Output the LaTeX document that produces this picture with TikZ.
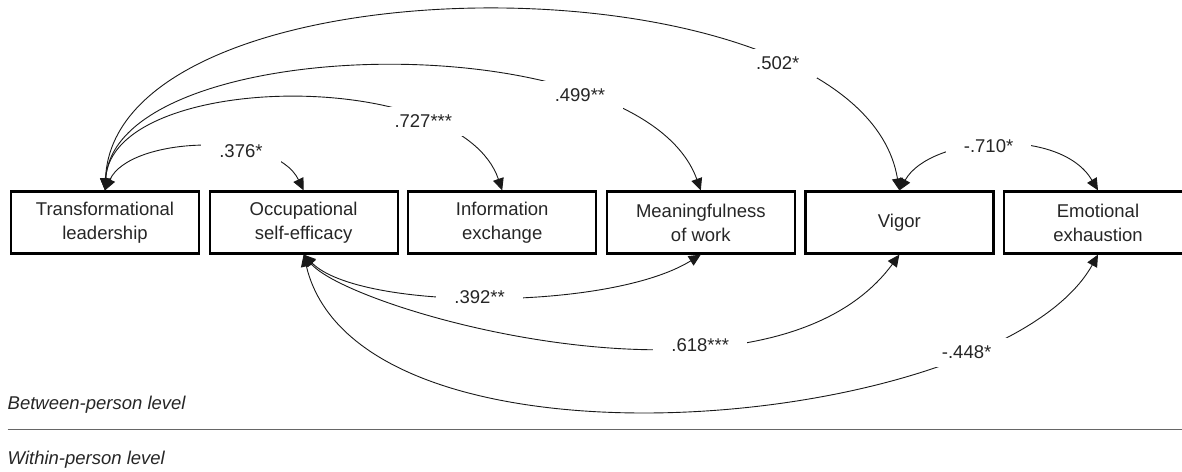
\documentclass[tikz,border=0pt]{standalone}
\usepackage{fontspec}
\setmainfont{Liberation Sans}
\usetikzlibrary{positioning,arrows.meta}
\tikzset{
    varbox/.style={draw, line width=2.2pt, minimum width=188pt, minimum height=62pt, inner sep=2pt,
        align=center, text=black!85, font=\fontsize{18.5}{24}\selectfont},
    coef/.style={fill=white, inner xsep=18pt, inner ysep=8pt, text=black!85,
        font=\fontsize{18.5}{22}\selectfont},
    corr/.style={{Triangle[length=12pt,width=11pt]}-{Triangle[length=12pt,width=11pt]},
        line width=0.9pt, black!90},
    level/.style={anchor=west, inner sep=0pt, text=black!85, font=\itshape\fontsize{18.5}{22}\selectfont}
}
\begin{document}
\begin{tikzpicture}[x=1pt,y=1pt]
            \useasboundingbox (0,0) rectangle (1182,471);
            \node[varbox] (tl) at (105,248.5) {Transformational\\leadership};
            \node[varbox, right=8.4pt of tl] (ose) {Occupational\\self-efficacy};
            \node[varbox, right=8.4pt of ose] (ie) {Information\\exchange};
            \node[varbox, right=8.4pt of ie] (mw) {Meaningfulness\\of work};
            \node[varbox, right=8.4pt of mw] (vig) {Vigor};
            \node[varbox, right=8.4pt of vig] (ee) {Emotional\\exhaustion};
            \draw[corr] (tl.north) .. controls (130,335) and (275,340) .. node[coef, pos=0.65] (r376) {.376*} (ose.north);
            \draw[corr] (tl.north) .. controls (112,400) and (460,405) .. node[coef, pos=0.75] (r727) {.727***} (ie.north);
            \draw[corr] (tl.north) .. controls (115,440) and (640,450) .. node[coef, pos=0.745] (r499) {.499**} (mw.north);
            \draw[corr] (tl.north) .. controls (115,520) and (860,520) .. node[coef, pos=0.77] (r502) {.502*} (vig.north);
            \draw[corr] (vig.north) .. controls (930,335) and (1060,345) .. node[coef, pos=0.47] (r710) {-.710*} (ee.north);
            \draw[corr] (ose.south) .. controls (360,160) and (610,160) .. node[coef, pos=0.48] (r392) {.392**} (mw.south);
            \draw[corr] (ose.south) .. controls (350,160) and (770,40) .. node[coef, pos=0.67] (r618) {.618***} (vig.south);
            \draw[corr] (ose.south) .. controls (360,-20) and (1000,40) .. node[coef, pos=0.78] (r448) {-.448*} (ee.south);
            \node[level] (between) at (7.5,66) {Between-person level};
            \draw[line width=0.8pt, black!60] (7.5,42) -- (1182,42);
            \node[level] (within) at (7.5,11) {Within-person level};
\end{tikzpicture}
\end{document}
